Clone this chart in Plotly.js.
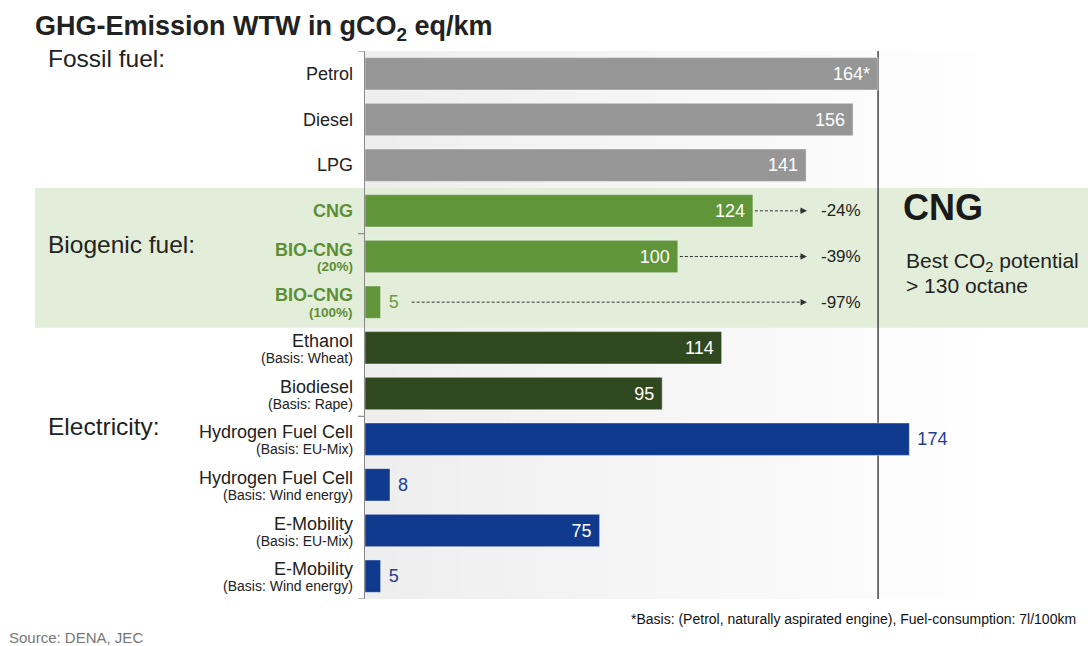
<!DOCTYPE html>
<html><head><meta charset="utf-8">
<script src="https://cdn.plot.ly/plotly-3.0.1.min.js"></script>
<style>html,body{margin:0;padding:0;background:#fff}#chart{width:1088px;height:646px}</style>
</head><body><div id="chart"></div>
<script>
// ---- data ----
const categories = ['Petrol','Diesel','LPG','CNG','BIO-CNG','BIO-CNG','Ethanol','Biodiesel','Hydrogen Fuel Cell','Hydrogen Fuel Cell','E-Mobility','E-Mobility'];
const subLabels = ['','','','','(20%)','(100%)','(Basis: Wheat)','(Basis: Rape)','(Basis: EU-Mix)','(Basis: Wind energy)','(Basis: EU-Mix)','(Basis: Wind energy)'];
const groups = ['fossil','fossil','fossil','cng','cng','cng','bio','bio','elec','elec','elec','elec'];
const values = [164,156,141,124,100,5,114,95,174,8,75,5];
const valueLabels = ['164*','156','141','124','100','5','114','95','174','8','75','5'];
const reductionRows = [3,4,5];
const reductionLabels = ['-24%','-39%','-97%'];
const sectionLabels = ['Fossil fuel:','Biogenic fuel:','Electricity:'];
const titleText = 'GHG-Emission WTW in gCO<sub>2</sub> eq/km';
const cngTitle = 'CNG';
const cngNotes = ['Best CO<sub>2</sub> potential','&gt; 130 octane'];
const footnote = '*Basis: (Petrol, naturally aspirated engine), Fuel-consumption: 7l/100km';
const sourceText = 'Source: DENA, JEC';

// ---- styles ----
const labelPos = ['inside','inside','inside','inside','inside','outside','inside','inside','outside','outside','inside','outside'];
const groupStyle = {
  fossil: {bar:'#969696', out:'#969696', label:'#222222', bold:false},
  cng:    {bar:'#619539', out:'#6a9a45', label:'#5f8f35', bold:true},
  bio:    {bar:'#30481f', out:'#30481f', label:'#222222', bold:false},
  elec:   {bar:'#0f3a8e', out:'#1d3f95', label:'#222222', bold:false}
};
const FONT = 'Arial, "Liberation Sans", sans-serif';
const W=1088,H=646,ML=365,MR=0,MT=51,MB=47;
const PW=W-ML-MR, PH=H-MT-MB;
const XMAX = 231.1;
const NROWS = categories.length;
const px2x = px => (px-ML)/PW;
const py2y = py => (H-MB-py)/PH;
const px2d = px => (px-ML)/PW*XMAX;
// category boundary position (e.g. 2.5 between rows 2 and 3) -> paper fraction
const bound2paper = b => 1 - (b+0.5)/NROWS;

const keys = categories.map((c,i)=> subLabels[i] ? c+' '+subLabels[i] : c);

// ---- traces ----
const traces = [];
['fossil','cng','bio','elec'].forEach(g=>{
  const idx = groups.map((gg,i)=>gg===g?i:-1).filter(i=>i>=0);
  const st = groupStyle[g];
  traces.push({
    type:'bar', orientation:'h',
    y: idx.map(i=>keys[i]), x: idx.map(i=>values[i]),
    text: idx.map(i=> labelPos[i]==='inside' ? valueLabels[i]+'\u00a0' : '\u00a0'+valueLabels[i]),
    textposition: idx.map(i=>labelPos[i]),
    insidetextanchor:'end',
    insidetextfont:{family:FONT,size:18,color:'#ffffff'},
    outsidetextfont:{family:FONT,size:18,color:st.out},
    constraintext:'none', cliponaxis:false,
    width:0.71,
    marker:{color:st.bar, line:{color:'rgba(255,255,255,0.45)', width:1}},
    hoverinfo:'skip', showlegend:false
  });
});

// ---- shapes ----
const shapes = [];
const NS = 40, GEND = px2d(1010);
for(let s=0;s<NS;s++){
  const t = s/(NS-1);
  const c = Math.round(238 + 17*t);
  shapes.push({type:'rect', layer:'below', xref:'x', yref:'paper',
    x0: GEND*s/NS, x1: GEND*(s+1)/NS+0.3, y0:0, y1:1,
    fillcolor:`rgb(${c},${c},${c})`, line:{width:0}});
}
// green band for biogenic CNG rows (paper refs -> lowest shape layer)
shapes.push({type:'rect', layer:'below', xref:'paper', yref:'paper',
  x0: px2x(35), x1: px2x(1088), y0: bound2paper(5.56), y1: bound2paper(2.5),
  fillcolor:'#e2eed9', line:{width:0}});
// reference line at petrol value (subplot layer: above band, below bars)
shapes.push({type:'line', layer:'below', xref:'x', yref:'y',
  x0: values[0], x1: values[0], y0:-0.5, y1:11.5, line:{color:'#454545', width:1.5}});
// group ticks on y axis
[-0.5, 3.5, 7.5, 11.5].forEach(b=>{
  shapes.push({type:'line', layer:'above', xref:'paper', yref:'y',
    x0: px2x(358), x1: px2x(365), y0:b, y1:b, line:{color:'#8a8a8a', width:1.2}});
});
// reduction arrows (dashed)
const ARROW_TIP = px2d(807), PCT_X = px2d(819);
reductionRows.forEach((r,k)=>{
  const start = labelPos[r]==='outside' ? values[r] + px2d(ML+31) : values[r] + px2d(ML+2);
  shapes.push({type:'line', layer:'above', xref:'x', yref:'y',
    x0:start, x1:ARROW_TIP-1.5, y0:r, y1:r, line:{color:'#333', width:1, dash:'3px,2px'}});
});

// ---- annotations ----
const ann = [];
categories.forEach((c,i)=>{
  const st = groupStyle[groups[i]];
  const two = !!subLabels[i];
  ann.push({xref:'paper', yref:'y', x:0, y:keys[i], xshift:-10, xanchor:'right', yanchor:'middle',
    yshift: two?7:0, showarrow:false, text:c,
    font:{family:FONT, size:18, color:st.label, weight: st.bold?'bold':'normal'}});
  if(two){
    ann.push({xref:'paper', yref:'y', x:0, y:keys[i], xshift:-10, xanchor:'right', yanchor:'middle',
      yshift:-10, showarrow:false, text:subLabels[i],
      font:{family:FONT, size: st.bold?13.5:14, color:st.label, weight: st.bold?'bold':'normal'}});
  }
});
reductionRows.forEach((r,k)=>{
  ann.push({xref:'x', yref:'y', x:ARROW_TIP, y:keys[r], ax:-7, ay:0, axref:'pixel', ayref:'pixel',
    showarrow:true, arrowhead:2, arrowsize:1.3, arrowwidth:1, arrowcolor:'#333', text:' '});
  ann.push({xref:'x', yref:'y', x:PCT_X, y:keys[r], xanchor:'left', yanchor:'middle', showarrow:false,
    text:reductionLabels[k], font:{family:FONT, size:17, color:'#222'}});
});
const secY = [59, 244, 426];
sectionLabels.forEach((s,k)=>{
  ann.push({xref:'paper', yref:'paper', x:px2x(46), y:py2y(secY[k]), xanchor:'left', yanchor:'middle',
    showarrow:false, text:s, font:{family:FONT, size:24.5, color:'#222'}});
});
ann.push({xref:'paper', yref:'paper', x:px2x(33), y:py2y(28), xanchor:'left', yanchor:'middle', showarrow:false,
  text:titleText, font:{family:FONT, size:27, color:'#222', weight:'bold'}});
ann.push({xref:'paper', yref:'paper', x:px2x(901), y:py2y(208), xanchor:'left', yanchor:'middle', showarrow:false,
  text:cngTitle, font:{family:FONT, size:36, color:'#1a1a1a', weight:'bold'}});
ann.push({xref:'paper', yref:'paper', x:px2x(904), y:py2y(262), xanchor:'left', yanchor:'middle', showarrow:false,
  text:cngNotes[0], font:{family:FONT, size:21, color:'#222'}});
ann.push({xref:'paper', yref:'paper', x:px2x(904), y:py2y(285), xanchor:'left', yanchor:'middle', showarrow:false,
  text:cngNotes[1], font:{family:FONT, size:21, color:'#222'}});
ann.push({xref:'paper', yref:'paper', x:px2x(1078), y:py2y(619), xanchor:'right', yanchor:'middle', showarrow:false,
  text:footnote, font:{family:FONT, size:14, color:'#111'}});
ann.push({xref:'paper', yref:'paper', x:px2x(7), y:py2y(637), xanchor:'left', yanchor:'middle', showarrow:false,
  text:sourceText, font:{family:FONT, size:15, color:'#777'}});

const layout = {
  width:W, height:H, margin:{l:ML, r:MR, t:MT, b:MB, pad:0},
  paper_bgcolor:'#ffffff', plot_bgcolor:'rgba(0,0,0,0)',
  font:{family:FONT},
  showlegend:false, barmode:'overlay',
  xaxis:{range:[0,XMAX], showgrid:false, zeroline:false, showticklabels:false, showline:false, ticks:'', fixedrange:true},
  yaxis:{type:'category', categoryorder:'array', categoryarray:keys, range:[11.5,-0.5],
    showgrid:false, zeroline:false, showticklabels:false, ticks:'', showline:true, linecolor:'#8a8a8a', linewidth:1.5, fixedrange:true},
  shapes:shapes, annotations:ann
};
Plotly.newPlot('chart', traces, layout, {displayModeBar:false, staticPlot:true});
</script>
</body></html>
